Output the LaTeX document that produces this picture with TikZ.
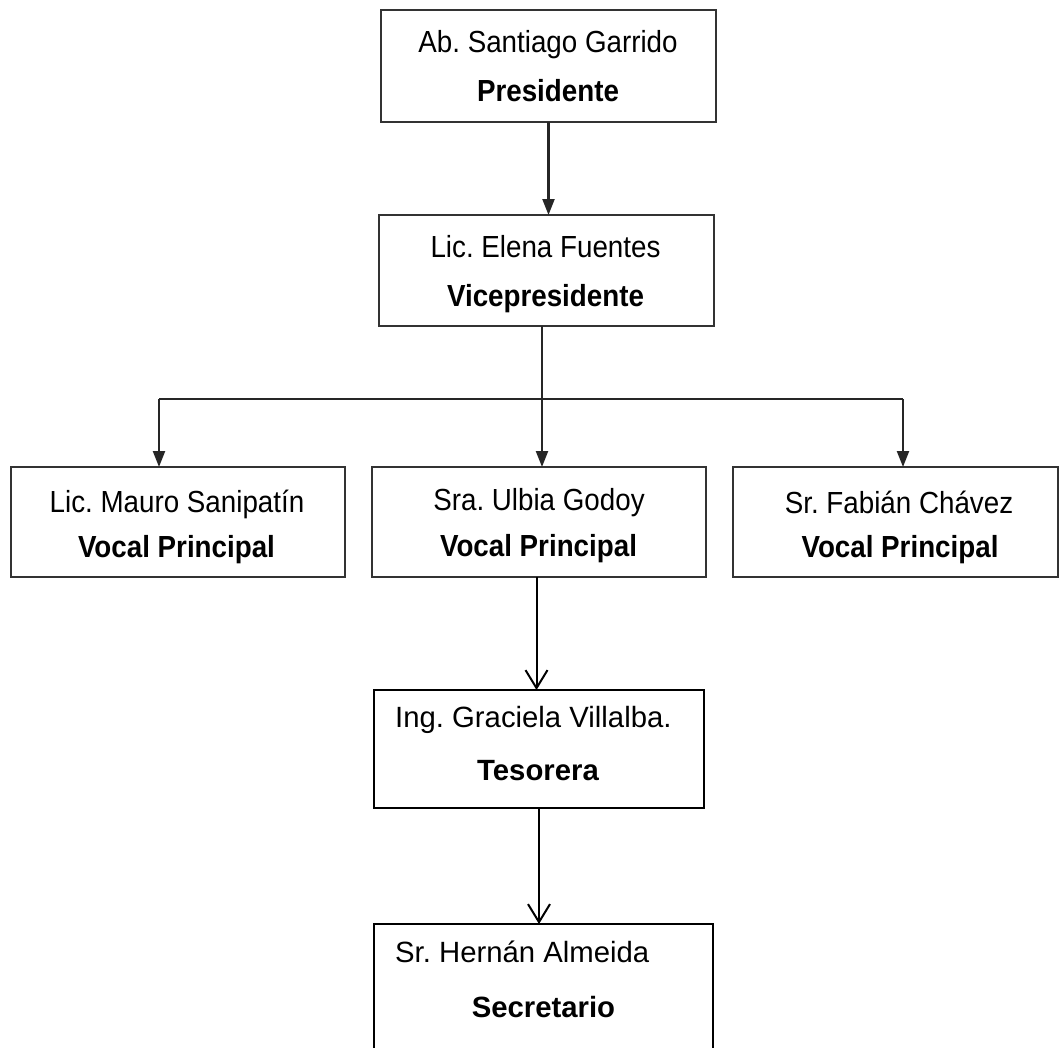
\documentclass[tikz,border=0pt]{standalone}
\usepackage{fontspec}
\setmainfont{Liberation Sans}
\newfontfamily\condfont[FakeStretch=0.91]{Liberation Sans}
\usetikzlibrary{arrows.meta}
\begin{document}
\frenchspacing
\begin{tikzpicture}[x=1pt,y=1pt,
  box/.style={draw=black!80, line width=2.3pt, inner sep=0pt, outer sep=0pt},
  lowbox/.style={draw=black, line width=1.8pt, inner sep=0pt, outer sep=0pt},
  wire/.style={draw=black!85, line width=2.2pt},
  tri/.style={wire, -{Triangle[length=16pt,width=12pt]}},
  barb/.style={draw=black, line width=2pt, -{Straight Barb[length=18pt,width=22pt]}},
  nm/.style={anchor=base, inner sep=0pt, font=\condfont\fontsize{30.5}{36}\selectfont},
  rl/.style={anchor=base, inner sep=0pt, font=\condfont\bfseries\fontsize{30.5}{36}\selectfont},
  nmlow/.style={anchor=base west, inner sep=0pt, font=\fontsize{29.3}{35}\selectfont},
  rllow/.style={anchor=base, inner sep=0pt, font=\bfseries\fontsize{29.3}{35}\selectfont}]
\useasboundingbox (0,0) rectangle (1059,-1047);
\clip (0,0) rectangle (1059,-1047);
\fill[white] (0,0) rectangle (1059,-1047);

% boxes
\node[box, minimum width=335pt, minimum height=112pt] (pres) at (548.5,-66) {};
\node[box, minimum width=335pt, minimum height=111pt] (vice) at (546.5,-270.5) {};
\node[box, minimum width=334pt, minimum height=110pt] (mauro) at (178,-522) {};
\node[box, minimum width=334pt, minimum height=110pt] (ulbia) at (539,-522) {};
\node[box, minimum width=325pt, minimum height=110pt] (fabian) at (895.5,-522) {};
\node[lowbox, minimum width=330pt, minimum height=118pt] (teso) at (539,-749) {};
\node[lowbox, minimum width=339pt, minimum height=146pt] (secr) at (543.5,-997) {};

% texts
\node[nm] (t1) at (548,-52) {Ab. Santiago Garrido};
\node[rl] (r1) at (548,-101) {Presidente};
\node[nm] (t2) at (545.5,-257) {Lic. Elena Fuentes};
\node[rl] (r2) at (545.5,-306) {Vicepresidente};
\node[nm] (t3) at (177,-512) {Lic. Mauro Sanipatín};
\node[rl] (r3) at (176.5,-557) {Vocal Principal};
\node[nm] (t4) at (539,-510) {Sra. Ulbia Godoy};
\node[rl] (r4) at (538.5,-556) {Vocal Principal};
\node[nm] (t5) at (899,-513) {Sr. Fabián Chávez};
\node[rl] (r5) at (900,-557) {Vocal Principal};
\node[nmlow] (t6) at (395,-727) {Ing. Graciela Villalba.};
\node[rllow] (r6) at (538,-780) {Tesorera};
\node[nmlow] (t7) at (395,-962) {Sr. Hernán Almeida};
\node[rllow] (r7) at (543.5,-1017) {Secretario};

% connectors
\coordinate (busL) at (159,-399);
\coordinate (busM) at (542,-399);
\coordinate (busR) at (903,-399);
\draw[tri] (pres.south) -- (pres.south |- vice.north);
\draw[wire] (busM |- vice.south) -- (busM);
\draw[wire] (busL) -- (busR);
\draw[tri] (busL) -- (busL |- mauro.north);
\draw[tri] (busM) -- (busM |- ulbia.north);
\draw[tri] (busR) -- (busR |- fabian.north);
\draw[barb] ([xshift=-2.5pt]ulbia.south) -- ([xshift=-2.5pt]ulbia.south |- teso.north);
\draw[barb] (teso.south) -- (teso.south |- secr.north);
\end{tikzpicture}
\end{document}
